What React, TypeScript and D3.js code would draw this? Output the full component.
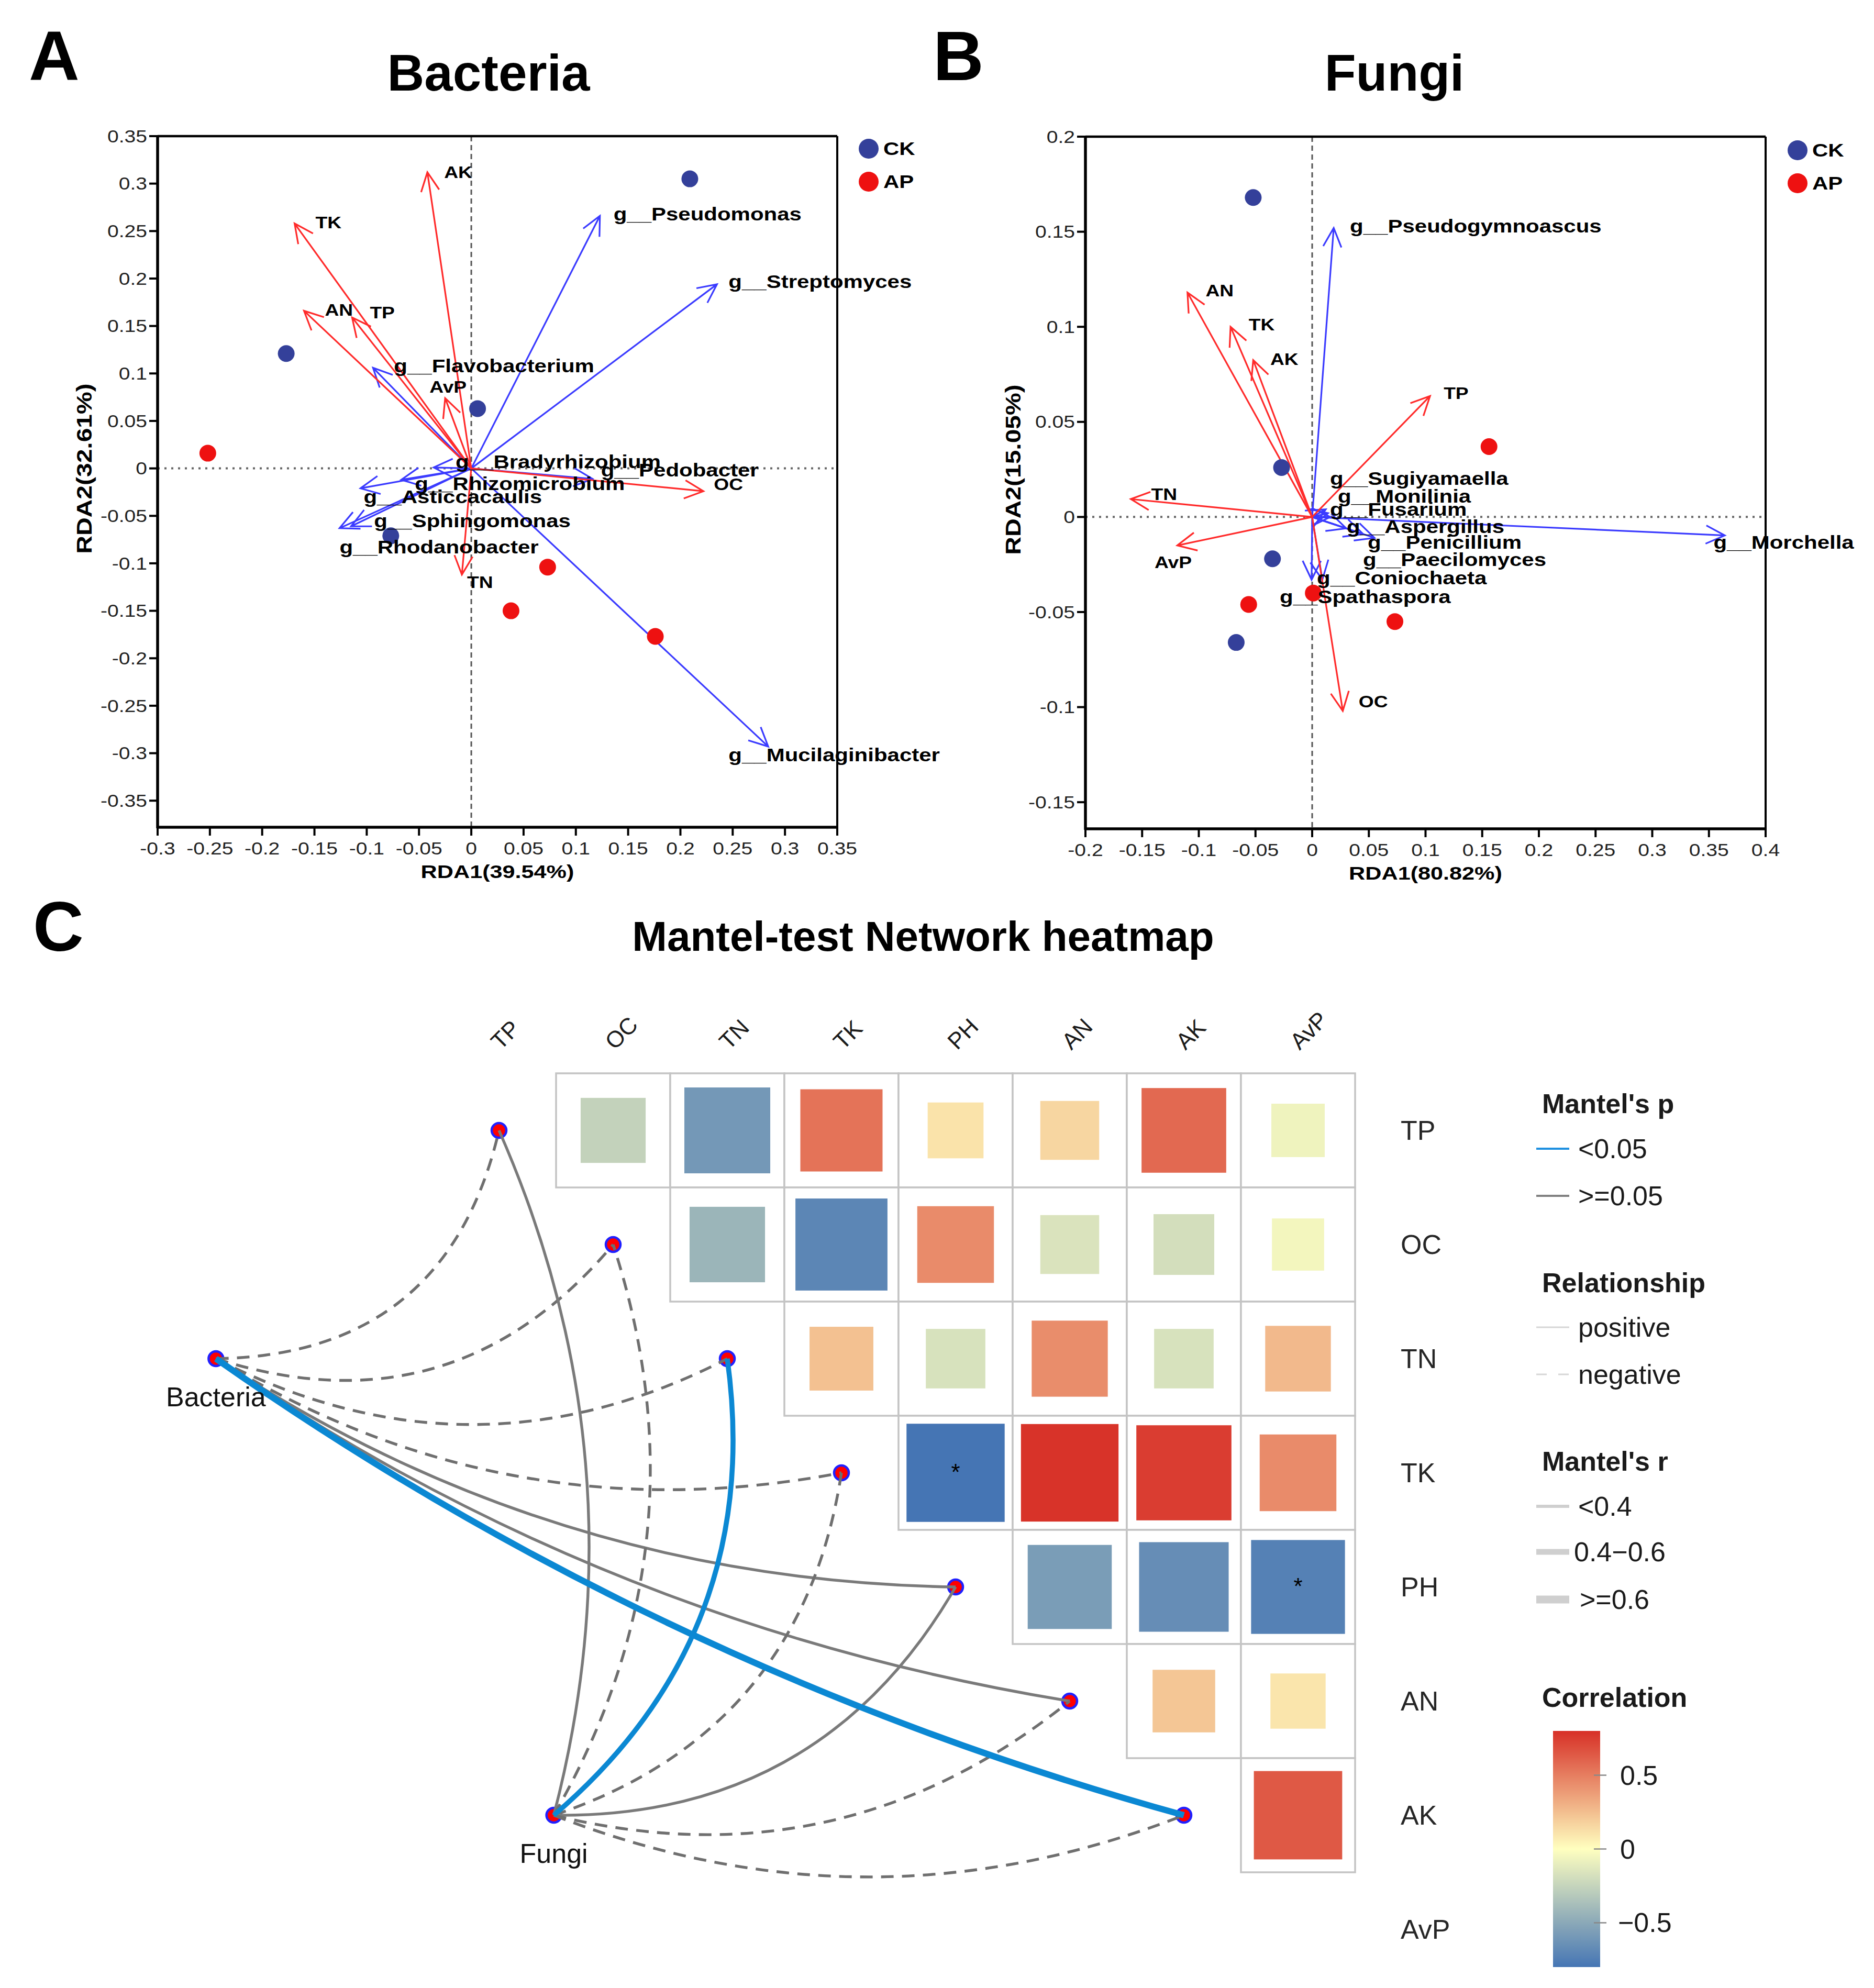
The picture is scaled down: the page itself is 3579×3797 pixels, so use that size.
import React, { useEffect } from 'react';
import * as d3 from 'd3';

const W = 3579;
const H = 3797;
const FONT = "'Liberation Sans', Arial, Helvetica, sans-serif";

// ---------------- Panel A : Bacteria RDA ----------------
const bacXTicks = [-0.3, -0.25, -0.2, -0.15, -0.1, -0.05, 0, 0.05, 0.1, 0.15, 0.2, 0.25, 0.3, 0.35];
const bacYTicks = [-0.35, -0.3, -0.25, -0.2, -0.15, -0.1, -0.05, 0, 0.05, 0.1, 0.15, 0.2, 0.25, 0.3, 0.35];
const bacCKx = [0.209, -0.177, 0.006, -0.077];
const bacCKy = [0.305, 0.121, 0.063, -0.071];
const bacAPx = [-0.252, 0.073, 0.038, 0.176];
const bacAPy = [0.016, -0.104, -0.15, -0.177];
const bacEnvNames = ['AK', 'TK', 'AN', 'TP', 'AvP', 'OC', 'TN'];
const bacEnvX = [-0.042, -0.169, -0.16, -0.114, -0.025, 0.222, -0.009];
const bacEnvY = [0.312, 0.258, 0.166, 0.159, 0.074, -0.024, -0.112];
const bacEnvLabX = [-0.026, -0.149, -0.14, -0.097, -0.04, 0.232, -0.004];
const bacEnvLabY = [0.312, 0.259, 0.167, 0.164, 0.086, -0.017, -0.12];
const bacGenera = ['Pseudomonas', 'Streptomyces', 'Flavobacterium', 'Bradyrhizobium', 'Pedobacter', 'Rhizomicrobium', 'Asticcacaulis', 'Sphingomonas', 'Rhodanobacter', 'Mucilaginibacter'];
const bacGenX = [0.123, 0.235, -0.094, -0.036, 0.116, -0.067, -0.106, -0.115, -0.126, 0.284];
const bacGenY = [0.266, 0.194, 0.106, 0.001, -0.011, -0.012, -0.021, -0.061, -0.063, -0.293];
const bacGenLabX = [0.136, 0.246, -0.074, -0.015, 0.124, -0.054, -0.103, -0.093, -0.126, 0.246];
const bacGenLabY = [0.268, 0.197, 0.108, 0.007, -0.002, -0.016, -0.03, -0.055, -0.083, -0.302];

// ---------------- Panel B : Fungi RDA ----------------
const funXTicks = [-0.2, -0.15, -0.1, -0.05, 0, 0.05, 0.1, 0.15, 0.2, 0.25, 0.3, 0.35, 0.4];
const funYTicks = [-0.15, -0.1, -0.05, 0, 0.05, 0.1, 0.15, 0.2];
const funCKx = [-0.052, -0.027, -0.035, -0.067];
const funCKy = [0.168, 0.026, -0.022, -0.066];
const funAPx = [0.156, 0.001, -0.056, 0.073];
const funAPy = [0.037, -0.04, -0.046, -0.055];
const funEnvNames = ['AN', 'TK', 'AK', 'TP', 'TN', 'AvP', 'OC'];
const funEnvX = [-0.11, -0.072, -0.052, 0.104, -0.16, -0.119, 0.027];
const funEnvY = [0.118, 0.1, 0.0825, 0.0636, 0.0094, -0.015, -0.102];
const funEnvLabX = [-0.094, -0.056, -0.037, 0.116, -0.142, -0.139, 0.041];
const funEnvLabY = [0.119, 0.101, 0.083, 0.065, 0.012, -0.024, -0.097];
const funGenera = ['Pseudogymnoascus', 'Sugiyamaella', 'Monilinia', 'Fusarium', 'Aspergillus', 'Penicillium', 'Paecilomyces', 'Coniochaeta', 'Spathaspora', 'Morchella'];
const funGenX = [0.019, 0.012, 0.014, 0.016, 0.03, 0.055, 0.045, 0.009, -0.0005, 0.364];
const funGenY = [0.152, 0.004, 0.002, 0.0, -0.006, -0.011, -0.009, -0.033, -0.033, -0.0097];
const funGenLabX = [0.0333, 0.0157, 0.0226, 0.0157, 0.0305, 0.049, 0.0448, 0.0042, -0.0286, 0.354];
const funGenLabY = [0.153, 0.0204, 0.011, 0.0039, -0.005, -0.0132, -0.0223, -0.032, -0.0419, -0.0132];

// ---------------- Panel C : Mantel heatmap ----------------
const envVars = ['TP', 'OC', 'TN', 'TK', 'PH', 'AN', 'AK', 'AvP'];
const corrTP = [-0.26, -0.6, 0.54, 0.11, 0.16, 0.58, -0.07];
const corrOC = [-0.43, -0.7, 0.45, -0.16, -0.19, -0.05];
const corrTN = [0.24, -0.17, 0.44, -0.17, 0.27];
const corrTK = [-0.8, 0.79, 0.75, 0.45];
const corrPH = [-0.57, -0.66, -0.73];
const corrAN = [0.22, 0.1];
const corrAK = [0.64];
const corrRows = [corrTP, corrOC, corrTN, corrTK, corrPH, corrAN, corrAK];
const sigCells = [['TK', 'PH'], ['PH', 'AvP']];

const speciesNames = ['Bacteria', 'Fungi'];
const speciesGridX = [-1.98, 0.98];
const speciesGridY = [2.5, 6.5];
const mantelEnv = ['TP', 'OC', 'TN', 'TK', 'PH', 'AN', 'AK'];
const mantelRBacteria = [0.21, 0.16, 0.18, 0.22, 0.3, 0.33, 0.64];
const mantelPBacteria = [0.31, 0.42, 0.36, 0.29, 0.18, 0.15, 0.01];
const mantelSignBacteria = [-1, -1, -1, -1, 1, 1, 1];
const mantelRFungi = [0.12, 0.17, 0.52, 0.19, 0.28, 0.2, 0.23];
const mantelPFungi = [0.55, 0.4, 0.03, 0.33, 0.21, 0.3, 0.27];
const mantelSignFungi = [1, -1, 1, -1, 1, -1, -1];
const corrLegendTicks = [-0.5, 0, 0.5];
const mantelRLevels = ['<0.4', '0.4\u22120.6', '>=0.6'];

// ---------------- helpers ----------------
const fmt = (v: number) => (Math.abs(v) < 1e-9 ? '0' : String(+v.toFixed(2)));

function arrowPath(x0: number, y0: number, x1: number, y1: number, len = 40, ang = 0.45) {
  const a = Math.atan2(y1 - y0, x1 - x0);
  const p1x = x1 - len * Math.cos(a - ang);
  const p1y = y1 - len * Math.sin(a - ang);
  const p2x = x1 - len * Math.cos(a + ang);
  const p2y = y1 - len * Math.sin(a + ang);
  return `M${x0},${y0}L${x1},${y1}M${p1x},${p1y}L${x1},${y1}L${p2x},${p2y}`;
}

const SText = ({ x, y, size, weight = 'normal', anchor = 'start', sx = 1.2, fill = '#000', rotate = 0, children }: any) => (
  <text
    transform={`translate(${x},${y}) rotate(${rotate}) scale(${sx},1)`}
    fontSize={size}
    fontWeight={weight}
    textAnchor={anchor}
    dominantBaseline="central"
    fill={fill}
    fontFamily={FONT}
  >
    {children}
  </text>
);

type RdaCfg = {
  id: string;
  left: number; right: number; top: number; bottom: number;
  xDomain: [number, number]; yDomain: [number, number];
  xTicks: number[]; yTicks: number[];
  xTitle: string; yTitle: string; yTitleX: number;
  title: string; titleX: number;
  letter: string; letterX: number;
  legendX: number; legendY: number;
  ckX: number[]; ckY: number[]; apX: number[]; apY: number[];
  envNames: string[]; envX: number[]; envY: number[]; envLabX: number[]; envLabY: number[];
  genNames: string[]; genX: number[]; genY: number[]; genLabX: number[]; genLabY: number[];
  clipRight: number;
};

const RED = '#FF2B2B';
const BLUE = '#3B3BFF';
const CK = '#34409A';
const AP = '#EE1111';

function RdaPanel({ c }: { c: RdaCfg }) {
  const x = d3.scaleLinear().domain(c.xDomain).range([c.left, c.right]);
  const y = d3.scaleLinear().domain(c.yDomain).range([c.bottom, c.top]);
  const x0 = x(0);
  const y0 = y(0);
  const midY = (c.top + c.bottom) / 2;
  return (
    <g clipPath={`url(#clip-${c.id})`}>
      <defs>
        <clipPath id={`clip-${c.id}`}>
          <rect x={0} y={0} width={c.clipRight} height={1800} />
        </clipPath>
      </defs>
      <text x={c.letterX} y={153} fontSize={134} fontWeight="bold" fontFamily={FONT}>{c.letter}</text>
      <text x={c.titleX} y={173} fontSize={98} fontWeight="bold" textAnchor="middle" fontFamily={FONT}>{c.title}</text>
      <line x1={c.left} x2={c.right} y1={y0} y2={y0} stroke="#666" strokeWidth={4} strokeDasharray="4,9" />
      <line x1={x0} x2={x0} y1={c.top} y2={c.bottom} stroke="#555" strokeWidth={3} strokeDasharray="10,7" />
      {c.genNames.map((n, i) => (
        <path key={'g' + n} d={arrowPath(x0, y0, x(c.genX[i]), y(c.genY[i]))} fill="none" stroke={BLUE} strokeWidth={3.2} />
      ))}
      {c.envNames.map((n, i) => (
        <path key={'e' + n} d={arrowPath(x0, y0, x(c.envX[i]), y(c.envY[i]))} fill="none" stroke={RED} strokeWidth={3.2} />
      ))}
      {c.ckX.map((v, i) => <circle key={'ck' + i} cx={x(v)} cy={y(c.ckY[i])} r={16} fill={CK} />)}
      {c.apX.map((v, i) => <circle key={'ap' + i} cx={x(v)} cy={y(c.apY[i])} r={16} fill={AP} />)}
      {c.genNames.map((n, i) => (
        <SText key={'gl' + n} x={x(c.genLabX[i])} y={y(c.genLabY[i])} size={35} weight="bold">{'g__' + n}</SText>
      ))}
      {c.envNames.map((n, i) => (
        <SText key={'el' + n} x={x(c.envLabX[i])} y={y(c.envLabY[i])} size={31} weight="bold">{n}</SText>
      ))}
      <line x1={c.left} x2={c.right} y1={c.top} y2={c.top} stroke="#000" strokeWidth={4.5} />
      <line x1={c.right} x2={c.right} y1={c.top} y2={c.bottom} stroke="#000" strokeWidth={4} />
      <line x1={c.left} x2={c.right + 2} y1={c.bottom} y2={c.bottom} stroke="#000" strokeWidth={5.5} />
      <line x1={c.left} x2={c.left} y1={c.top - 2} y2={c.bottom + 2} stroke="#000" strokeWidth={5.5} />
      {c.xTicks.map((t) => (
        <g key={'xt' + t}>
          <line x1={x(t)} x2={x(t)} y1={c.bottom} y2={c.bottom + 16} stroke="#000" strokeWidth={4} />
          <SText x={x(t)} y={c.bottom + 40} size={34} anchor="middle" sx={1.15} fill="#222">{fmt(t)}</SText>
        </g>
      ))}
      {c.yTicks.map((t) => (
        <g key={'yt' + t}>
          <line x1={c.left - 16} x2={c.left} y1={y(t)} y2={y(t)} stroke="#000" strokeWidth={4} />
          <SText x={c.left - 20} y={y(t)} size={34} anchor="end" sx={1.15} fill="#222">{fmt(t)}</SText>
        </g>
      ))}
      <SText x={(c.left + c.right) / 2} y={c.bottom + 84} size={36} weight="bold" anchor="middle">{c.xTitle}</SText>
      <SText x={c.yTitleX} y={midY - 25} size={40} weight="bold" anchor="middle" rotate={-90}>{c.yTitle}</SText>
      <circle cx={c.legendX} cy={c.legendY} r={19} fill={CK} />
      <circle cx={c.legendX} cy={c.legendY + 63} r={19} fill={AP} />
      <SText x={c.legendX + 28} y={c.legendY} size={35} weight="bold">CK</SText>
      <SText x={c.legendX + 28} y={c.legendY + 63} size={35} weight="bold">AP</SText>
    </g>
  );
}

// ---------------- Panel C ----------------
const CELL = 218;
const GX0 = 844;
const GY0 = 2050;

function MantelPanel() {
  const gx = d3.scaleLinear().domain([0, 8]).range([GX0, GX0 + CELL * 8]);
  const gy = d3.scaleLinear().domain([0, 8]).range([GY0, GY0 + CELL * 8]);
  const color = d3.scaleLinear<string>().domain([-0.8, 0, 0.8]).range(['#4575B4', '#FFFFBF', '#D73027']).clamp(true);
  const size = d3.scaleLinear().domain([0, 0.8]).range([0.43, 0.86]).clamp(true);
  const isSig = (a: string, b: string) => sigCells.some((s) => s[0] === a && s[1] === b);

  const cells: any[] = [];
  corrRows.forEach((row, i) => {
    row.forEach((r, k) => {
      const j = i + 1 + k;
      cells.push({ i, j, r, sig: isSig(envVars[i], envVars[j]) });
    });
  });

  const nodePos = (name: string) => {
    const idx = envVars.indexOf(name);
    return [gx(idx + 0.5), gy(idx + 0.5)];
  };
  const species = speciesNames.map((n, s) => ({ name: n, x: gx(speciesGridX[s]), y: gy(speciesGridY[s]) }));
  const rs = [mantelRBacteria, mantelRFungi];
  const ps = [mantelPBacteria, mantelPFungi];
  const sg = [mantelSignBacteria, mantelSignFungi];
  const widthOf = (r: number) => (r >= 0.6 ? 12 : r >= 0.4 ? 9.5 : 5.4);
  const curve = (x0: number, y0: number, x1: number, y1: number) => {
    const dx = x1 - x0;
    const dy = y1 - y0;
    const L = Math.hypot(dx, dy);
    const sag = Math.max(60, 160 - 0.035 * L);
    const mx = (x0 + x1) / 2;
    const my = (y0 + y1) / 2;
    const h = 2 * sag;
    return `M${x0},${y0}Q${mx + (-dy / L) * h},${my + (dx / L) * h} ${x1},${y1}`;
  };
  const edges: any[] = [];
  species.forEach((sp, s) => {
    mantelEnv.forEach((e, k) => {
      const [ex, ey] = nodePos(e);
      const neg = sg[s][k] < 0;
      const sig = ps[s][k] < 0.05;
      edges.push({
        key: sp.name + e,
        d: curve(sp.x, sp.y, ex, ey),
        stroke: sig ? '#0B88D3' : neg ? '#6F6F6F' : '#7A7A7A',
        width: widthOf(rs[s][k]),
        dash: neg ? '24,16' : undefined,
        sig,
      });
    });
  });
  edges.sort((a, b) => Number(a.sig) - Number(b.sig));

  const cbTop = 3306;
  const cbBot = 3757;
  const cbY = d3.scaleLinear().domain([-0.8, 0.8]).range([cbBot, cbTop]);
  const stops = d3.range(0, 1.0001, 0.05);

  const LX = 2945;
  const lineX1 = 2934;
  const lineX2 = 2997;
  const itemX = 3014;
  const fs = 52;
  const txt = (x: number, y: number, s: string, bold = false, anchor = 'start') => (
    <text x={x} y={y} fontSize={fs} fontWeight={bold ? 'bold' : 'normal'} dominantBaseline="central" textAnchor={anchor} fontFamily={FONT} fill="#1a1a1a">{s}</text>
  );

  return (
    <g>
      <text x={63} y={1816} fontSize={134} fontWeight="bold" fontFamily={FONT}>C</text>
      <text x={1763} y={1816} fontSize={80} fontWeight="bold" textAnchor="middle" fontFamily={FONT}>Mantel-test Network heatmap</text>

      {envVars.map((v, j) => (
        <text key={'cl' + v} transform={`translate(${gx(j + 0.5) + 3},${GY0 - 43}) rotate(-45)`} fontSize={44} fontFamily={FONT} fill="#1a1a1a">{v}</text>
      ))}
      {envVars.map((v, i) => (
        <text key={'rl' + v} x={gx(8) + 87} y={gy(i + 0.5)} fontSize={fs} dominantBaseline="central" fontFamily={FONT} fill="#262626">{v}</text>
      ))}

      {cells.map((c) => {
        const s = size(Math.abs(c.r)) * CELL;
        const cx = gx(c.j + 0.5);
        const cy = gy(c.i + 0.5);
        return (
          <g key={`c${c.i}-${c.j}`}>
            <rect x={gx(c.j)} y={gy(c.i)} width={CELL} height={CELL} fill="#fff" stroke="#C4C4C4" strokeWidth={3.5} />
            <rect x={cx - s / 2} y={cy - s / 2} width={s} height={s} fill={color(c.r)} />
            {c.sig && <text x={cx} y={cy + 14} fontSize={44} textAnchor="middle" fontFamily={FONT} fill="#000">*</text>}
          </g>
        );
      })}

      {mantelEnv.map((e) => {
        const [x, y] = nodePos(e);
        return <circle key={'n' + e} cx={x} cy={y} r={14} fill="#FF0000" stroke="#2020FF" strokeWidth={4.5} />;
      })}
      {species.map((sp) => (
        <circle key={'s' + sp.name} cx={sp.x} cy={sp.y} r={14} fill="#FF0000" stroke="#2020FF" strokeWidth={4.5} />
      ))}
      {edges.map((e) => (
        <path key={e.key} d={e.d} fill="none" stroke={e.stroke} strokeWidth={e.width} strokeDasharray={e.dash} />
      ))}
      {species.map((sp) => (
        <text key={'sl' + sp.name} x={sp.x} y={sp.y + 73} fontSize={fs} textAnchor="middle" dominantBaseline="central" fontFamily={FONT} fill="#111">{sp.name}</text>
      ))}

      {txt(LX, 2108, "Mantel's p", true)}
      <line x1={lineX1} x2={lineX2} y1={2194} y2={2194} stroke="#1E90E0" strokeWidth={4} />
      {txt(itemX, 2194, '<0.05')}
      <line x1={lineX1} x2={lineX2} y1={2284} y2={2284} stroke="#808080" strokeWidth={4} />
      {txt(itemX, 2284, '>=0.05')}

      {txt(LX, 2450, 'Relationship', true)}
      <line x1={lineX1} x2={lineX2} y1={2535} y2={2535} stroke="#D6D6D6" strokeWidth={3} />
      {txt(itemX, 2535, 'positive')}
      <line x1={lineX1} x2={lineX2} y1={2625} y2={2625} stroke="#D6D6D6" strokeWidth={3} strokeDasharray="20,22" />
      {txt(itemX, 2625, 'negative')}

      {txt(LX, 2791, "Mantel's r", true)}
      <line x1={lineX1} x2={lineX2} y1={2877} y2={2877} stroke="#CFCFCF" strokeWidth={6} />
      {txt(itemX, 2877, mantelRLevels[0])}
      <line x1={lineX1} x2={lineX2} y1={2964} y2={2964} stroke="#CFCFCF" strokeWidth={11} />
      {txt(3006, 2964, mantelRLevels[1])}
      <line x1={lineX1} x2={lineX2} y1={3055} y2={3055} stroke="#CFCFCF" strokeWidth={15} />
      {txt(3017, 3055, mantelRLevels[2])}

      {txt(LX, 3242, 'Correlation', true)}
      <defs>
        <linearGradient id="cbgrad" x1="0" y1="1" x2="0" y2="0">
          {stops.map((t) => (
            <stop key={t} offset={t} stopColor={color(-0.8 + 1.6 * t)} />
          ))}
        </linearGradient>
      </defs>
      <rect x={2966} y={cbTop} width={90} height={cbBot - cbTop} fill="url(#cbgrad)" />
      {corrLegendTicks.map((t) => (
        <g key={'cb' + t}>
          <line x1={3044} x2={3056} y1={cbY(t)} y2={cbY(t)} stroke="#888" strokeWidth={2.5} />
          <line x1={3056} x2={3068} y1={cbY(t)} y2={cbY(t)} stroke="#888" strokeWidth={2.5} />
          {txt(t < 0 ? 3090 : 3094, cbY(t), t === 0 ? '0' : t < 0 ? '\u2212' + Math.abs(t) : String(t))}
        </g>
      ))}
    </g>
  );
}

export default function App() {
  useEffect(() => {
    document.body.style.margin = '0';
    document.body.style.background = '#fff';
  }, []);

  const cfgA: RdaCfg = {
    id: 'A', left: 301, right: 1599, top: 260, bottom: 1580,
    xDomain: [-0.3, 0.35], yDomain: [-0.378, 0.35],
    xTicks: bacXTicks, yTicks: bacYTicks,
    xTitle: 'RDA1(39.54%)', yTitle: 'RDA2(32.61%)', yTitleX: 161,
    title: 'Bacteria', titleX: 933, letter: 'A', letterX: 55,
    legendX: 1659, legendY: 284,
    ckX: bacCKx, ckY: bacCKy, apX: bacAPx, apY: bacAPy,
    envNames: bacEnvNames, envX: bacEnvX, envY: bacEnvY, envLabX: bacEnvLabX, envLabY: bacEnvLabY,
    genNames: bacGenera, genX: bacGenX, genY: bacGenY, genLabX: bacGenLabX, genLabY: bacGenLabY,
    clipRight: 1797,
  };
  const cfgB: RdaCfg = {
    id: 'B', left: 2073, right: 3372, top: 261, bottom: 1583,
    xDomain: [-0.2, 0.4], yDomain: [-0.164, 0.2],
    xTicks: funXTicks, yTicks: funYTicks,
    xTitle: 'RDA1(80.82%)', yTitle: 'RDA2(15.05%)', yTitleX: 1935,
    title: 'Fungi', titleX: 2663, letter: 'B', letterX: 1782,
    legendX: 3433, legendY: 287,
    ckX: funCKx, ckY: funCKy, apX: funAPx, apY: funAPy,
    envNames: funEnvNames, envX: funEnvX, envY: funEnvY, envLabX: funEnvLabX, envLabY: funEnvLabY,
    genNames: funGenera, genX: funGenX, genY: funGenY, genLabX: funGenLabX, genLabY: funGenLabY,
    clipRight: W,
  };

  return (
    <svg width={W} height={H} viewBox={`0 0 ${W} ${H}`} style={{ position: 'absolute', left: 0, top: 0, display: 'block' }} xmlns="http://www.w3.org/2000/svg">
      <rect x={0} y={0} width={W} height={H} fill="#fff" />
      <RdaPanel c={cfgA} />
      <RdaPanel c={cfgB} />
      <MantelPanel />
    </svg>
  );
}
